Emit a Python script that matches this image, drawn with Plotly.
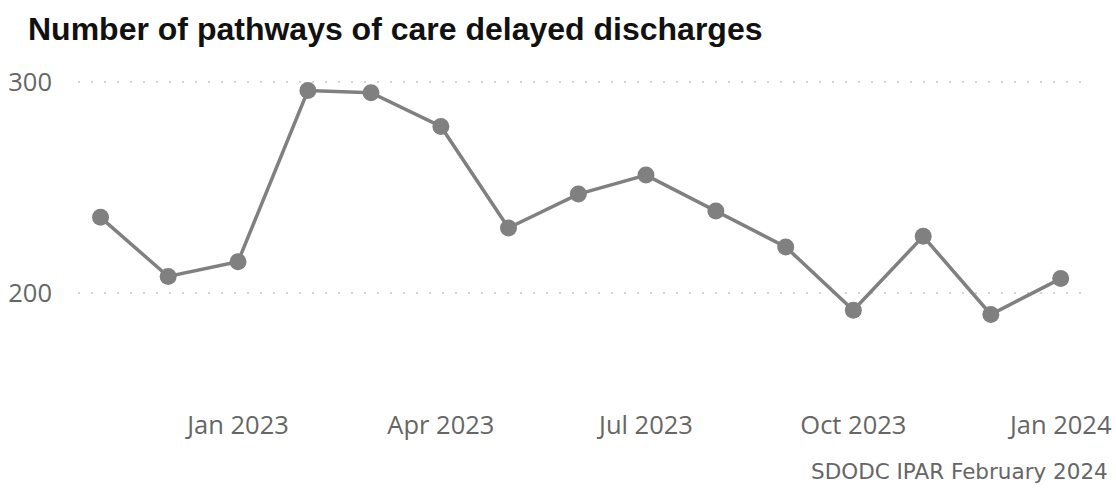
import plotly.graph_objects as go

months = ["2022-11-01", "2022-12-01", "2023-01-01", "2023-02-01", "2023-03-01",
          "2023-04-01", "2023-05-01", "2023-06-01", "2023-07-01", "2023-08-01",
          "2023-09-01", "2023-10-01", "2023-11-01", "2023-12-01", "2024-01-01"]
delayed = [236, 208, 215, 296, 295, 279, 231, 247, 256, 239, 222, 192, 227, 190, 207]

x_tickvals = ["2023-01-01", "2023-04-01", "2023-07-01", "2023-10-01", "2024-01-01"]
x_ticktext = ["Jan 2023", "Apr 2023", "Jul 2023", "Oct 2023", "Jan 2024"]
y_tickvals = [200, 300]

title = "Number of pathways of care delayed discharges"
footer = "SDODC IPAR February 2024"

fig = go.Figure()
fig.add_trace(go.Scatter(
    x=months, y=delayed, mode="lines+markers",
    line=dict(color="#808080", width=3.5),
    marker=dict(color="#808080", size=17),
    hoverinfo="x+y", showlegend=False,
))

fig.update_layout(
    width=1116, height=491,
    margin=dict(l=78, r=26, t=61, b=92),
    paper_bgcolor="white", plot_bgcolor="white",
    title=dict(text="<b>" + title + "</b>", x=0, xref="paper", xanchor="left",
               y=1, yref="container", yanchor="top", pad=dict(t=18, l=-50),
               font=dict(family="Liberation Sans, Arial", size=32, color="#111111")),
    font=dict(family="Open Sans, Segoe UI", color="#666666"),
)
fig.update_xaxes(
    type="date", range=["2022-10-22", "2024-01-14"],
    tickvals=x_tickvals, ticktext=x_ticktext,
    tickfont=dict(size=25.5, color="#666666"), automargin=False,
    showgrid=False, zeroline=False, showline=False, ticks="", ticklabelstandoff=8,
)
fig.update_yaxes(
    range=[150, 310], tickvals=y_tickvals,
    tickfont=dict(size=25.5, color="#666666"), automargin=False,
    showgrid=True, gridcolor="#d4d4d4", gridwidth=2, griddash="2px,11px",
    zeroline=False, showline=False, ticks="", ticklabelstandoff=25,
)
fig.add_annotation(text=footer, xref="paper", yref="paper", x=1.0198, y=-0.172,
                   xanchor="right", yanchor="top", showarrow=False,
                   font=dict(family="DejaVu Sans, Verdana", size=21.5, color="#666666"))

fig.write_html("out.html")
